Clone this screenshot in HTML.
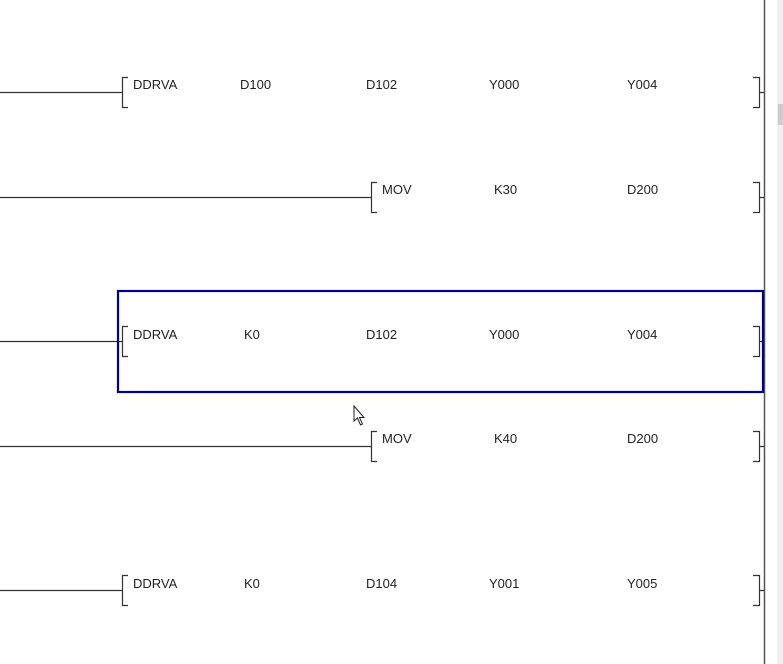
<!DOCTYPE html>
<html><head><style>
html,body{margin:0;padding:0;background:#fff;}
svg{display:block;}
text{font-family:"Liberation Sans",Arial,sans-serif;font-size:13px;fill:#222;}
</style></head><body>
<svg width="783" height="664" viewBox="0 0 783 664" xmlns="http://www.w3.org/2000/svg">
<rect x="0" y="0" width="783" height="664" fill="#fff"/>
<rect x="777" y="0" width="6" height="664" fill="#f0f0f0"/>
<rect x="778" y="104" width="5" height="21" fill="#cdcdcd"/>
<line x1="764.5" y1="0" x2="764.5" y2="664" stroke="#555" stroke-width="1.5"/>
<g stroke="#333" stroke-width="1.2" fill="none">
<path d="M0 92.5H122.5M128 77.5H122.5V107.5H128"/>
<path d="M753 77.5H759.5V107.5H753M759.5 92.5H764"/>
<path d="M0 197.5H371.5M377 182.5H371.5V212.5H377"/>
<path d="M753 182.5H759.5V212.5H753M759.5 197.5H764"/>
<path d="M0 341.5H122.5M128 326.5H122.5V356.5H128"/>
<path d="M753 326.5H759.5V356.5H753M759.5 341.5H764"/>
<path d="M0 446.5H371.5M377 431.5H371.5V461.5H377"/>
<path d="M753 431.5H759.5V461.5H753M759.5 446.5H764"/>
<path d="M0 590.5H122.5M128 575.5H122.5V605.5H128"/>
<path d="M753 575.5H759.5V605.5H753M759.5 590.5H764"/>
</g>
<rect x="118" y="291" width="645" height="101" fill="none" stroke="#00008b" stroke-width="2.2"/>
<text x="133" y="89">DDRVA</text><text x="240" y="89">D100</text><text x="366" y="89">D102</text><text x="489" y="89">Y000</text><text x="627" y="89">Y004</text>
<text x="382" y="194">MOV</text><text x="494" y="194">K30</text><text x="627" y="194">D200</text>
<text x="133" y="339">DDRVA</text><text x="244" y="339">K0</text><text x="366" y="339">D102</text><text x="489" y="339">Y000</text><text x="627" y="339">Y004</text>
<text x="382" y="443">MOV</text><text x="494" y="443">K40</text><text x="627" y="443">D200</text>
<text x="133" y="588">DDRVA</text><text x="244" y="588">K0</text><text x="366" y="588">D104</text><text x="489" y="588">Y001</text><text x="627" y="588">Y005</text>
<path d="M354 406V421L357.5 418L360.5 425L362.5 424L359.5 417.5H364Z" fill="#fff" stroke="#222" stroke-width="1"/>
</svg>
</body></html>
